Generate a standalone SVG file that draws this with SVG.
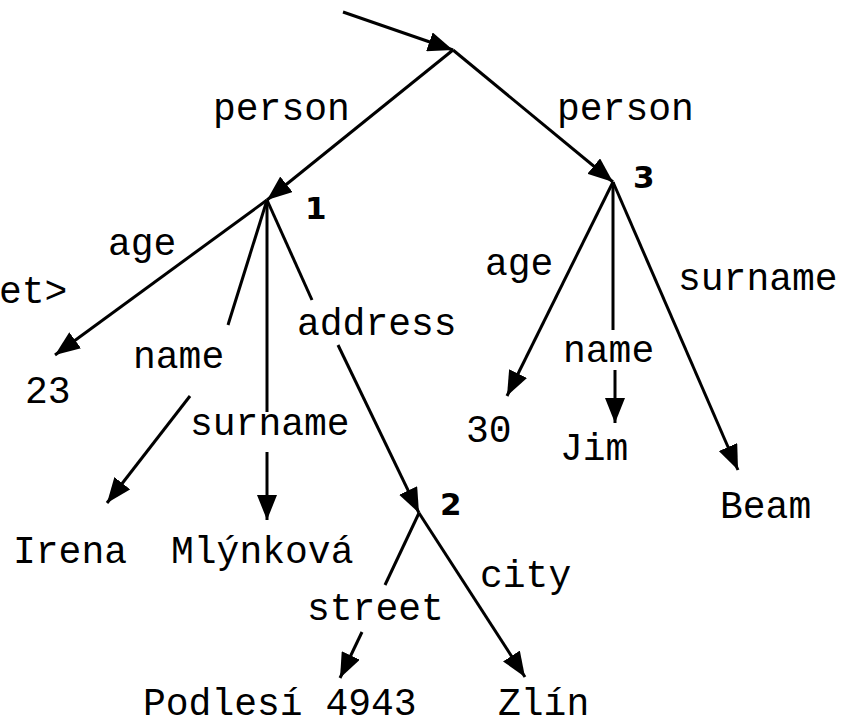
<svg xmlns="http://www.w3.org/2000/svg" width="853" height="725" viewBox="0 0 853 725">
<style>
.t{font-family:"Liberation Mono","Courier New",monospace;font-size:38px;fill:#000}
.n{font-family:"DejaVu Sans","Liberation Sans",sans-serif;font-size:31px;font-weight:bold;fill:#000}
.e{stroke:#000;stroke-width:3;fill:none}
</style>
<defs>
<marker id="ah" viewBox="0 0 25 20" refX="25" refY="10" markerWidth="25" markerHeight="20" markerUnits="userSpaceOnUse" orient="auto">
<path d="M0,0 L25,10 L0,20 z" fill="#000"/>
</marker>
</defs>
<rect width="853" height="725" fill="#fff"/>
<g id="connectors">
<line class="e" x1="343" y1="12" x2="453" y2="50" marker-end="url(#ah)"/>
<line class="e" x1="453" y1="50" x2="267" y2="200" marker-end="url(#ah)"/>
<line class="e" x1="453" y1="50" x2="613" y2="182" marker-end="url(#ah)"/>
<line class="e" x1="267" y1="200" x2="55" y2="355" marker-end="url(#ah)"/>
<line class="e" x1="267" y1="200" x2="228" y2="325"/>
<line class="e" x1="190" y1="396" x2="107" y2="503" marker-end="url(#ah)"/>
<line class="e" x1="267" y1="200" x2="267" y2="412"/>
<line class="e" x1="267" y1="452" x2="267" y2="520" marker-end="url(#ah)"/>
<line class="e" x1="267" y1="200" x2="312" y2="300"/>
<line class="e" x1="338" y1="345" x2="419" y2="513" marker-end="url(#ah)"/>
<line class="e" x1="419" y1="513" x2="385" y2="585"/>
<line class="e" x1="362" y1="632" x2="340" y2="678" marker-end="url(#ah)"/>
<line class="e" x1="419" y1="513" x2="525" y2="677" marker-end="url(#ah)"/>
<line class="e" x1="613" y1="182" x2="507" y2="396" marker-end="url(#ah)"/>
<line class="e" x1="613" y1="182" x2="613" y2="330"/>
<line class="e" x1="615" y1="370" x2="615" y2="423" marker-end="url(#ah)"/>
<line class="e" x1="613" y1="182" x2="738" y2="470" marker-end="url(#ah)"/>
</g>
<g id="node1"><text class="n" x="305" y="219">1</text></g>
<g id="node2"><text class="n" x="440" y="515">2</text></g>
<g id="node3"><text class="n" x="633" y="188">3</text></g>
<g id="labels">
<text class="t" x="-1" y="303">et&gt;</text>
<text class="t" x="213" y="120">person</text>
<text class="t" x="557" y="120">person</text>
<text class="t" x="108" y="255">age</text>
<text class="t" x="133" y="368">name</text>
<text class="t" x="190" y="435">surname</text>
<text class="t" x="297" y="335">address</text>
<text class="t" x="485" y="275">age</text>
<text class="t" x="563" y="362">name</text>
<text class="t" x="678" y="290">surname</text>
<text class="t" x="307" y="620">street</text>
<text class="t" x="480" y="587">city</text>
</g>
<g id="leaf-23"><text class="t" x="25" y="403">23</text></g>
<g id="leaf-irena"><text class="t" x="13" y="563">Irena</text></g>
<g id="leaf-mlynkova"><text class="t" x="171" y="563">Mlýnková</text></g>
<g id="leaf-30"><text class="t" x="466" y="442">30</text></g>
<g id="leaf-jim"><text class="t" x="560" y="460">Jim</text></g>
<g id="leaf-beam"><text class="t" x="720" y="518">Beam</text></g>
<g id="leaf-podlesi"><text class="t" x="143" y="715">Podlesí 4943</text></g>
<g id="leaf-zlin"><text class="t" x="498" y="715">Zlín</text></g>
</svg>
